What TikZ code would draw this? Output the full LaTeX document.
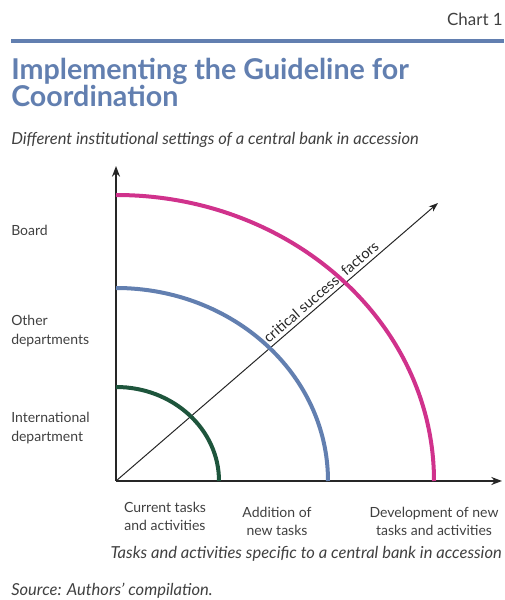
\documentclass[tikz,border=0pt]{standalone}
\usepackage{fontspec}
\setmainfont{Lato}
\usepackage{xcolor}
\definecolor{ColBlue}{RGB}{98,127,176}
\definecolor{ColPink}{RGB}{208,50,140}
\definecolor{ColGreen}{RGB}{30,85,60}
\definecolor{ColText}{RGB}{64,64,64}
\usetikzlibrary{arrows.meta}
\tikzstyle{Label}=[inner sep=0pt,text=ColText,font=\fontsize{10.5}{14.5}\selectfont,align=left]
\tikzstyle{Tick}=[inner sep=0pt,text=ColText,font=\fontsize{10.5}{13.5}\selectfont,align=center]
\tikzstyle{Note}=[Label,font=\itshape\fontsize{12.4}{14}\selectfont]
\tikzstyle{Axis}=[draw=black!85,line width=1.5pt,-{Stealth[length=8pt,width=6pt]}]
\tikzstyle{Arc}=[line width=3pt]

\begin{document}
\begin{tikzpicture}[x=0.75pt,y=0.75pt]
        \useasboundingbox (0,0) rectangle (504,600);
        % header
        \node[Label,anchor=base east,font=\fontsize{12.7}{14}\selectfont](chart)at(503,574){Chart 1};
        \draw[ColBlue,line width=3pt](11,558.5)--(504,558.5);
        \node[inner sep=0pt,anchor=base west,text=ColBlue,align=left,
            font=\bfseries\fontsize{21.5}{20.3}\selectfont](title)at(11,493)
            {Implementing the Guideline for\\Coordination};
        \node[Note,anchor=base west](sub)at(11,455)
            {Different institutional settings of a central bank in accession};
        % axes
        \coordinate(O)at(116,119);
        \coordinate(ytop)at(116,434);
        \coordinate(xend)at(502,119);
        \coordinate(dend)at(438,397);
        \draw[Axis](O)--(ytop);
        \draw[Axis](O)--(xend);
        \draw[draw=black!85,line width=0.75pt,-{Stealth[length=7pt,width=5pt]}](O)--(dend)
            node[pos=0.655,sloped,above=2.5pt,inner sep=0pt,text=black!85,
            font=\fontsize{10.9}{12}\selectfont](csf){critical success\hspace{0.3em} factors};
        % levels
        \draw[Arc,ColGreen](116,213)arc[start angle=90,end angle=0,x radius=103,y radius=94];
        \draw[Arc,ColBlue](116,312)arc[start angle=90,end angle=0,x radius=212,y radius=193];
        \draw[Arc,ColPink](116,405)arc[start angle=90,end angle=0,x radius=318,y radius=286];
        % vertical labels
        \node[Label,anchor=west](board)at(11,370){Board};
        \node[Label,anchor=west](other)at(11,269){Other\\departments};
        \node[Label,anchor=west](intl)at(11,172){International\\department};
        % horizontal labels
        \node[Tick](cur)at(165,84){Current tasks\\and activities};
        \node[Tick](add)at(277,79){Addition of\\new tasks};
        \node[Tick](dev)at(434,79){Development of new\\tasks and activities};
        \node[Note,anchor=east](xtitle)at(502,46)
            {Tasks and activities specific to a central bank in accession};
        \node[Note,anchor=west](src)at(11,9){Source: Authors' compilation.};
    \end{tikzpicture}
\end{document}
